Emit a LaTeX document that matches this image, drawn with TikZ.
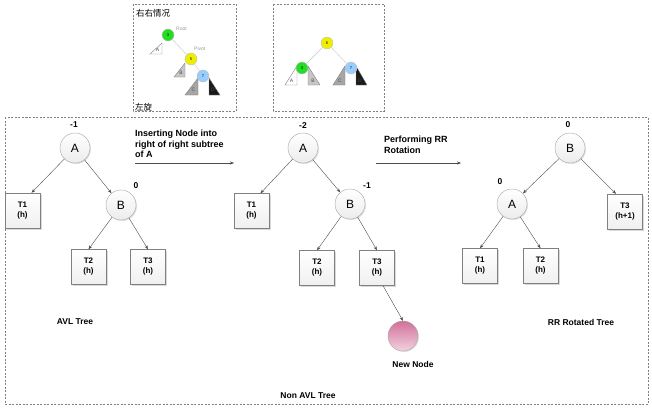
\documentclass[tikz,border=0pt]{standalone}
\usepackage{fontspec}
\setmainfont{Liberation Sans}
\newfontfamily\cjk{Noto Sans CJK SC}
\usetikzlibrary{shadows,arrows.meta}
\definecolor{rootgreen}{HTML}{22DD22}
\definecolor{pivotyellow}{HTML}{EEEE00}
\definecolor{leafblue}{HTML}{99CCFF}
\definecolor{newpink}{HTML}{D2709A}
\definecolor{newpinklight}{HTML}{F2D2E0}
\tikzset{
  frame/.style={draw=gray, dash pattern=on 2pt off 1.5pt},
  avl node/.style={circle, draw=gray!70, top color=white, bottom color=gray!15,
    minimum size=30pt, inner sep=0pt, font={\fontsize{12}{13}\selectfont},
    drop shadow={shadow xshift=1pt, shadow yshift=-1pt, opacity=0.25}},
  new node/.style={avl node, top color=newpink, bottom color=newpinklight},
  subtree/.style={rectangle, draw=gray, top color=white, bottom color=gray!12,
    minimum width=35pt, minimum height=35pt, align=center,
    font={\bfseries\fontsize{8}{10}\selectfont},
    drop shadow={shadow xshift=1.5pt, shadow yshift=-1.5pt, opacity=0.3}},
  balance/.style={font={\bfseries\fontsize{8.5}{9}\selectfont}},
  caption/.style={font={\bfseries\fontsize{9}{10.5}\selectfont}, align=left, inner sep=0pt},
  link/.style={draw=black!70, -{Stealth[length=4pt,width=3pt]}},
  mini node/.style={circle, draw=gray!50, minimum size=12pt, inner sep=0pt,
    font={\fontsize{4}{4}\selectfont}},
  mini link/.style={draw=gray!45},
  mini label/.style={font={\fontsize{5}{5}\selectfont}, text=gray!80, inner sep=0pt},
}
\begin{document}
\begin{tikzpicture}[x=1pt,y=-1pt]
\useasboundingbox (0,0) rectangle (652,408);
% dashed frames
\draw[frame] (133,4) rectangle (236,111);
\draw[frame] (273,4) rectangle (384,111);
\draw[frame] (5,117) rectangle (648,404);

% small trees (right-right case and after left rotation)
\foreach \tx/\tcol/\ax/\ay/\bx/\by/\cx/\cy/\lx/\ly/\tt in {
    ta/white/162/43/150/54/162/54/157.5/50/A,
    tb/gray!45/185/63/174/77/185/77/181/73/B,
    tc/gray!70/198/78/185/95/198/95/193.5/90/C,
    td/black!90/209/78/209/95/220/95/213/90/D,
    ua/white/297/66/285/85/297/85/291.5/81/A,
    ub/gray!45/308/66/308/85/320/85/313/81/B,
    uc/gray!70/345/66/333/85/345/85/340/81/C,
    ud/black!90/356/66/356/85/367/85/360/81/D}{
    \filldraw[draw=gray, fill=\tcol] (\ax,\ay) -- (\bx,\by) -- (\cx,\cy) -- cycle;
    \node[mini label, text=gray!60!black] (\tx) at (\lx,\ly) {\tt};
}
\node[mini node, fill=rootgreen] (r3) at (168,35) {3};
\node[mini node, fill=pivotyellow] (r5) at (191,59) {5};
\node[mini node, fill=leafblue] (r7) at (203,76) {7};
\draw[mini link] (r3) -- (r5);
\draw[mini link] (r5) -- (r7);
\node[mini label, anchor=west] (root) at (176,29) {Root};
\node[mini label, anchor=west] (pivot) at (194,49) {Pivot};
\node[anchor=west, inner sep=0pt, font={\cjk\fontsize{8.5}{9}\selectfont}] (rrcase) at (136,13) {右右情况};
\node[anchor=west, inner sep=0pt, font={\cjk\fontsize{8.5}{9}\selectfont}] (leftrot) at (135,107) {左旋};

\node[mini node, fill=pivotyellow] (s5) at (327,43) {5};
\node[mini node, fill=rootgreen] (s3) at (302,68) {3};
\node[mini node, fill=leafblue] (s7) at (351,68) {7};
\draw[mini link] (s5) -- (s3);
\draw[mini link] (s5) -- (s7);

% AVL tree
\node[avl node] (A1) at (75,148) {A};
\node[avl node] (B1) at (121,205) {B};
\node[subtree] (T11) at (22.5,210.5) {T1\\(h)};
\node[subtree] (T21) at (88.5,267) {T2\\(h)};
\node[subtree] (T31) at (148,267) {T3\\(h)};
\node[balance] (bA1) at (74,125) {-1};
\node[balance] (bB1) at (136,186) {0};
\draw[link] (A1) -- ([xshift=9pt]T11.north);
\draw[link] (A1) -- (B1);
\draw[link] (B1) -- (T21.north);
\draw[link] (B1) -- (T31.north);
\node[balance] (avl) at (75,322) {AVL Tree};

\node[caption, anchor=north west] (insert) at (135,130) {Inserting Node into\\right of right subtree\\of A};
\coordinate (ins start) at (135,163);
\coordinate (ins end) at (234,163);
\draw[link] (ins start) -- (ins end);

% Non AVL tree
\node[avl node] (A2) at (303,148) {A};
\node[avl node] (B2) at (350,204) {B};
\node[subtree] (T12) at (251.5,211) {T1\\(h)};
\node[subtree] (T22) at (317,268) {T2\\(h)};
\node[subtree] (T32) at (377,268) {T3\\(h)};
\node[new node] (new) at (403,336) {};
\node[balance] (bA2) at (303,126) {-2};
\node[balance] (bB2) at (367,186) {-1};
\draw[link] (A2) -- ([xshift=9pt]T12.north);
\draw[link] (A2) -- (B2);
\draw[link] (B2) -- (T22.north);
\draw[link] (B2) -- (T32.north);
\draw[link] ([xshift=6pt]T32.south) -- (new.north);
\node[balance] (newlbl) at (413,364) {New Node};
\node[balance] (nonavl) at (308,396) {Non AVL Tree};

\node[caption, anchor=north west] (perform) at (384,136) {Performing RR\\Rotation};
\coordinate (rot start) at (376,163);
\coordinate (rot end) at (461,163);
\draw[link] (rot start) -- (rot end);

% RR rotated tree
\node[avl node] (B3) at (570,148) {B};
\node[avl node] (A3) at (512,204) {A};
\node[subtree] (T33) at (625,211.5) {T3\\(h+1)};
\node[subtree] (T13) at (480,266) {T1\\(h)};
\node[subtree] (T23) at (540.5,266) {T2\\(h)};
\node[balance] (bB3) at (568,125) {0};
\node[balance] (bA3) at (500,182) {0};
\draw[link] (B3) -- (A3);
\draw[link] (B3) -- ([xshift=-9pt]T33.north);
\draw[link] (A3) -- (T13.north);
\draw[link] (A3) -- (T23.north);
\node[balance] (rrtree) at (581,322) {RR Rotated Tree};
\end{tikzpicture}
\end{document}
